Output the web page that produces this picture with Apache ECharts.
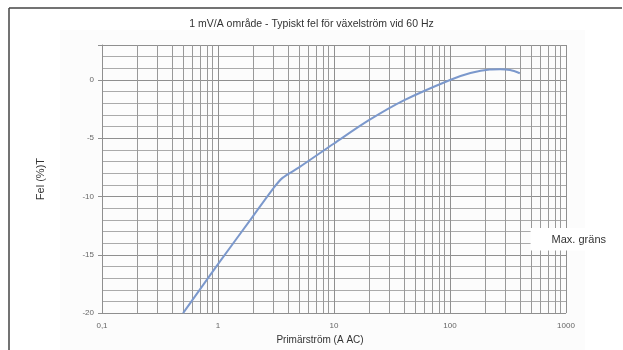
<!DOCTYPE html>
<html>
<head>
<meta charset="utf-8">
<script src="https://cdn.jsdelivr.net/npm/echarts@6/dist/echarts.min.js"></script>
<style>
  html, body { margin: 0; padding: 0; background: #fff; }
  #chart { width: 623px; height: 350px; }
</style>
</head>
<body>
<div id="chart"></div>
<script>
// Primary current (A AC) and typical error (%) at 60 Hz, 1 mV/A range
const current = [0.5, 1, 2, 3, 3.6, 5, 10, 20, 40, 100, 150, 220, 270, 330, 400];
const errorPct = [-20, -15.8, -11.7, -9.3, -8.4, -7.5, -5.45, -3.45, -1.75, 0, 0.6, 0.9, 0.92, 0.85, 0.58];

// Log grid: intermediate lines inside each decade
const minorX = [0.2, 0.3, 0.4, 0.5, 0.6, 0.7, 0.8, 0.9,
                2, 3, 4, 5, 6, 7, 8, 9,
                20, 30, 40, 50, 60, 70, 80, 90,
                200, 300, 400, 500, 600, 700, 800, 900];

const titleText = '1 mV/A område - Typiskt fel för växelström vid 60 Hz';
const xName = 'Primärström (A AC)';
const yName = 'Fel (%)T';
const limitName = 'Max. gräns';

const font = '"Liberation Sans", Arial, sans-serif';

const chart = echarts.init(document.getElementById('chart'), null, { renderer: 'canvas' });

chart.setOption({
  animation: false,
  backgroundColor: '#fff',
  title: {
    text: titleText,
    left: 'center',
    top: 14,
    textStyle: { fontFamily: font, fontSize: 10.5, fontWeight: 'normal', color: '#333' }
  },
  legend: {
    data: [{ name: limitName, icon: 'none' }],
    right: 0,
    top: 228,
    backgroundColor: '#fff',
    padding: [5, 17, 5, 16],
    itemWidth: 0,
    itemGap: 0,
    textStyle: { fontFamily: font, fontSize: 11, color: '#333' }
  },
  graphic: [
    { type: 'rect', z: -10, shape: { x: 60, y: 30, width: 525, height: 320 }, style: { fill: '#fcfcfc' } },
    { type: 'line', shape: { x1: 9, y1: 8, x2: 622, y2: 8 }, style: { stroke: '#444', lineWidth: 1.5 } },
    { type: 'line', shape: { x1: 9, y1: 8, x2: 9, y2: 350 }, style: { stroke: '#444', lineWidth: 1.5 } }
  ],
  grid: { left: 102, right: 57, top: 45, bottom: 34 },
  xAxis: {
    type: 'log',
    logBase: 10,
    min: 0.1,
    max: 1000,
    name: xName,
    nameLocation: 'middle',
    nameGap: 21,
    nameTextStyle: { fontFamily: font, fontSize: 10, color: '#333', padding: [0, 28, 0, 0] },
    axisLine: { show: true, lineStyle: { color: '#8f8f8f' } },
    axisTick: { show: false },
    axisLabel: {
      fontSize: 8, color: '#666', margin: 9,
      formatter: v => (v === 0.1 ? '0,1' : String(v))
    },
    splitLine: { show: true, lineStyle: { color: '#8f8f8f', width: 1 } }
  },
  yAxis: [
    {
      type: 'value',
      min: -20,
      max: 3,
      interval: 1,
      axisLine: { show: false },
      axisTick: { show: false },
      axisLabel: { show: false },
      splitLine: { show: true, lineStyle: { color: '#aaaaaa', width: 1 } }
    },
    {
      type: 'value',
      position: 'left',
      min: -20,
      max: 3,
      interval: 5,
      name: yName,
      nameLocation: 'middle',
      nameGap: 56,
      nameRotate: 90,
      nameTextStyle: { fontFamily: font, fontSize: 11, color: '#333' },
      axisLine: { show: true, lineStyle: { color: '#8f8f8f' } },
      axisTick: { show: true, length: 4, lineStyle: { color: '#8f8f8f' } },
      axisLabel: {
        fontSize: 8, color: '#666', margin: 8,
        formatter: v => (v % 5 === 0 ? String(v) : '')
      },
      splitLine: { show: true, lineStyle: { color: '#8f8f8f', width: 1 } }
    }
  ],
  series: [
    {
      name: 'rutnät',
      type: 'line',
      data: [],
      z: 1,
      silent: true,
      markLine: {
        z: 1,
        silent: true,
        symbol: ['none', 'none'],
        label: { show: false },
        lineStyle: { type: 'solid', color: '#999999', width: 1 },
        data: minorX.map(v => ({ xAxis: v }))
      }
    },
    {
      name: 'Typiskt fel',
      type: 'line',
      z: 10,
      smooth: 0.3,
      showSymbol: false,
      lineStyle: { color: '#7b98cc', width: 2 },
      data: current.map((c, i) => [c, errorPct[i]])
    },
    {
      name: limitName,
      type: 'line',
      data: []
    }
  ]
});
</script>
</body>
</html>
